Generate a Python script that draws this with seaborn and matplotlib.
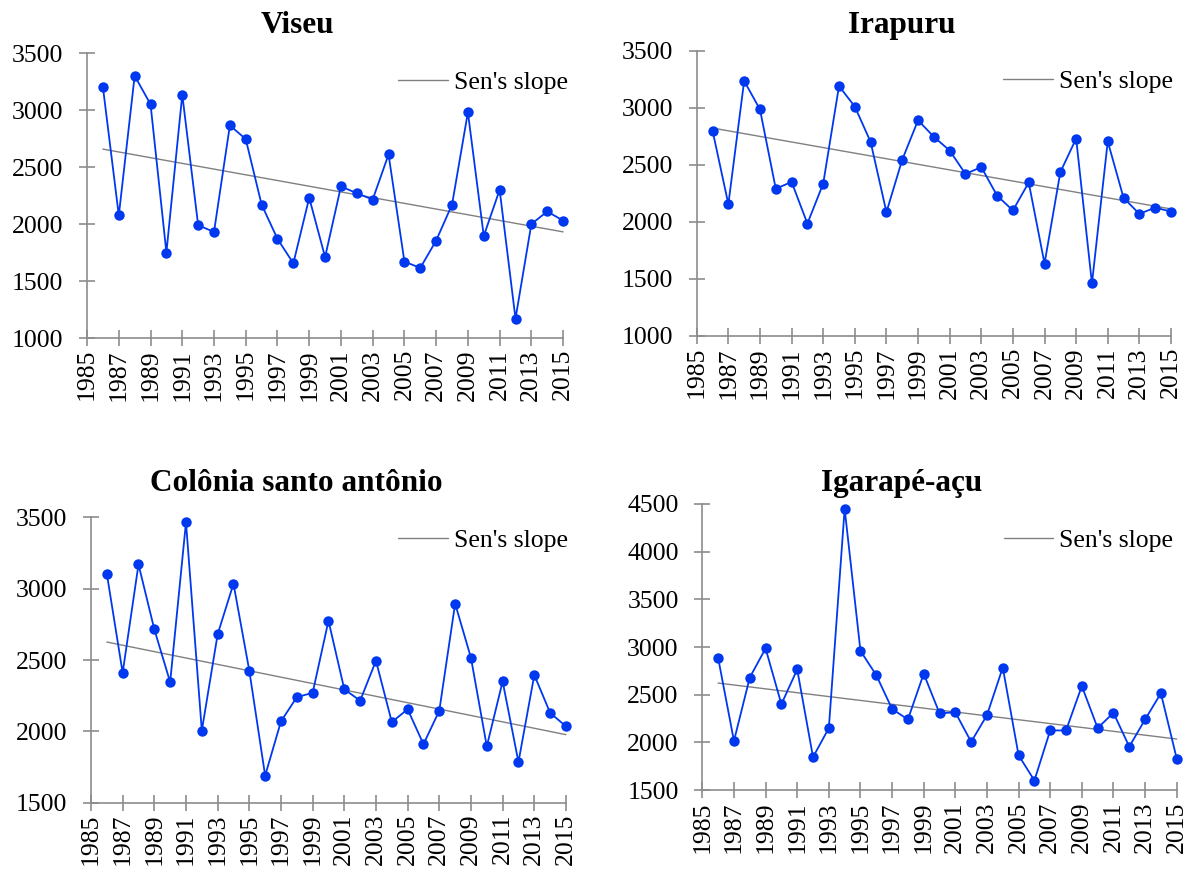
import matplotlib
matplotlib.use("Agg")
import matplotlib.pyplot as plt
import pandas as pd
import seaborn as sns

# Data (annual values)
years = list(range(1986, 2016))

viseu = [3200, 2075, 3300, 3050, 1750, 3135, 1990, 1930, 2865, 2745,
         2170, 1870, 1655, 2230, 1710, 2330, 2270, 2215, 2610, 1670,
         1615, 1855, 2170, 2980, 1895, 2300, 1170, 2000, 2110, 2030]
irapuru = [2800, 2155, 3235, 2985, 2290, 2350, 1985, 2335, 3190, 3010,
           2700, 2085, 2545, 2890, 2745, 2625, 2420, 2480, 2230, 2100,
           2345, 1635, 2435, 2730, 1460, 2705, 2210, 2070, 2125, 2090]
colonia = [3105, 2410, 3170, 2715, 2345, 3465, 2005, 2680, 3035, 2425,
           1690, 2070, 2240, 2270, 2775, 2295, 2215, 2495, 2065, 2155,
           1910, 2145, 2895, 2515, 1895, 2350, 1785, 2395, 2130, 2035]
igarape = [2885, 2015, 2680, 2985, 2400, 2765, 1845, 2150, 4450, 2960,
           2705, 2350, 2240, 2720, 2305, 2315, 2005, 2285, 2785, 1865,
           1600, 2125, 2125, 2590, 2150, 2310, 1955, 2240, 2515, 1830]

# Sen's slope trend line end values (1986 and 2015)
trend_years = [1986, 2015]
viseu_trend = [2657, 1931]
irapuru_trend = [2822, 2113]
colonia_trend = [2626, 1977]
igarape_trend = [2622, 2035]

titles = ["Viseu", "Irapuru", "Colônia santo antônio", "Igarapé-açu"]
x_ticks = list(range(1985, 2016, 2))

# Style
sns.set_style("ticks")
plt.rcParams["font.family"] = ["Liberation Serif", "DejaVu Serif"]
plt.rcParams["text.color"] = "black"

BLUE = "#0038f0"
GREY_LINE = "#808080"
SPINE = "#8c8c8c"

fig = plt.figure(figsize=(11.91, 8.75), dpi=100)

# axes rectangles (figure fractions) and limits for each panel
panels = [
    dict(rect=[0.0731, 0.6137, 0.3997, 0.3257], vals=viseu, trend=viseu_trend,
         ylim=(1000, 3500), title_xy=(0.2494, 0.9626), leg=(1.01, 0.898)),
    dict(rect=[0.5850, 0.6160, 0.3982, 0.3261], vals=irapuru, trend=irapuru_trend,
         ylim=(1000, 3500), title_xy=(0.7574, 0.9626), leg=(1.004, 0.891)),
    dict(rect=[0.0764, 0.0826, 0.3988, 0.3262], vals=colonia, trend=colonia_trend,
         ylim=(1500, 3500), title_xy=(0.2491, 0.4392), leg=(1.004, 0.920)),
    dict(rect=[0.5897, 0.0971, 0.3983, 0.3269], vals=igarape, trend=igarape_trend,
         ylim=(1500, 4500), title_xy=(0.7570, 0.4387), leg=(0.993, 0.874)),
]

for p, title in zip(panels, titles):
    ax = fig.add_axes(p["rect"])
    df = pd.DataFrame({"year": years, "value": p["vals"]})
    tr = pd.DataFrame({"year": trend_years, "value": p["trend"]})

    sns.lineplot(data=df, x="year", y="value", ax=ax, color=BLUE, lw=1.3,
                 marker="o", markersize=7.5, markeredgecolor=BLUE,
                 markeredgewidth=0, clip_on=False, zorder=3)
    sns.lineplot(data=tr, x="year", y="value", ax=ax, color=GREY_LINE, lw=1.0,
                 clip_on=False, zorder=2)

    ax.set_xlim(1985, 2015)
    ax.set_ylim(*p["ylim"])
    ax.set_xticks(x_ticks)
    ax.set_xticklabels([str(y) for y in x_ticks], rotation=90)
    ax.set_yticks(list(range(p["ylim"][0], p["ylim"][1] + 1, 500)))
    ax.set_xlabel("")
    ax.set_ylabel("")

    sns.despine(ax=ax)
    for s in ["left", "bottom"]:
        ax.spines[s].set_color(SPINE)
        ax.spines[s].set_linewidth(1.2)
    ax.tick_params(axis="both", direction="inout", length=12, width=1.2,
                   color=SPINE, labelsize=18.5, labelcolor="black")
    ax.tick_params(axis="y", pad=11)
    ax.tick_params(axis="x", pad=2)

    handle = ax.get_lines()[1]
    leg = ax.legend([handle], ["Sen's slope"], loc="center right",
                    bbox_to_anchor=p["leg"], frameon=False, fontsize=18.5,
                    handlelength=1.93, handletextpad=0.23, borderpad=0,
                    borderaxespad=0)
    for t in leg.get_texts():
        t.set_color("black")

    fig.text(p["title_xy"][0], p["title_xy"][1], title, ha="center",
             va="baseline", fontsize=22.5, fontweight="bold", color="black")

fig.savefig("out.png", dpi=100)
